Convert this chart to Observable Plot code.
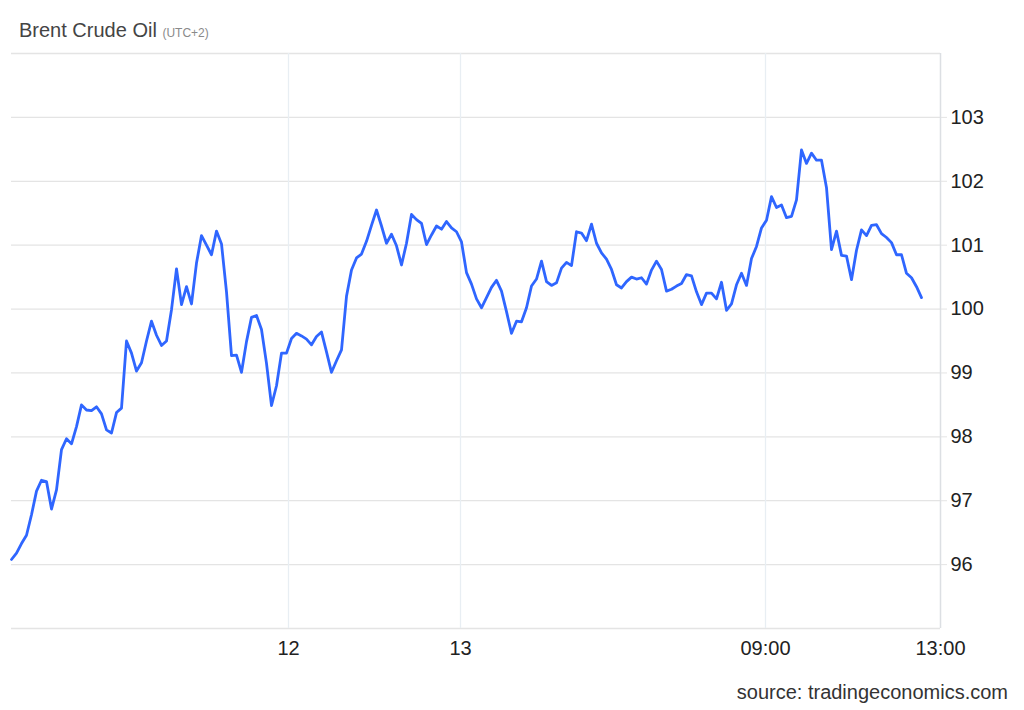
<!DOCTYPE html>
<html>
<head>
<meta charset="utf-8">
<script src="https://cdn.jsdelivr.net/npm/d3@7"></script>
<script src="https://cdn.jsdelivr.net/npm/@observablehq/plot@0.6"></script>
<style>
  html, body { margin: 0; padding: 0; background: #fff; }
  #wrap { position: relative; width: 1024px; height: 710px; overflow: hidden; font-family: "Liberation Sans", Arial, sans-serif; }
  #chart { position: absolute; left: 0; top: 0; }
  #title { position: absolute; left: 19px; top: 19px; font-size: 20px; color: #444; white-space: nowrap; }
  #title small { font-size: 12px; color: #8a8a8a; }
  #source { position: absolute; right: 16px; top: 681px; font-size: 20px; color: #333; white-space: nowrap; }
</style>
</head>
<body>
<div id="wrap">
  <div id="chart"></div>
  <div id="title">Brent Crude Oil <small>(UTC+2)</small></div>
  <div id="source">source: tradingeconomics.com</div>
</div>
<script>
// Brent crude price, evenly spaced intraday observations
const prices = [
  96.08, 96.18, 96.33, 96.46, 96.78, 97.15, 97.32, 97.30, 96.87, 97.17,
  97.80, 97.97, 97.89, 98.16, 98.50, 98.42, 98.41, 98.47, 98.36, 98.11,
  98.06, 98.38, 98.45, 99.50, 99.31, 99.03, 99.16, 99.50, 99.81, 99.59,
  99.43, 99.50, 99.99, 100.63, 100.07, 100.35, 100.08, 100.72, 101.15, 101.00,
  100.85, 101.22, 101.02, 100.27, 99.27, 99.28, 99.01, 99.49, 99.87, 99.90,
  99.68, 99.15, 98.49, 98.80, 99.31, 99.31, 99.54, 99.62, 99.58, 99.53,
  99.44, 99.57, 99.64, 99.33, 99.01, 99.19, 99.36, 100.20, 100.61, 100.80,
  100.86, 101.06, 101.31, 101.55, 101.30, 101.03, 101.17, 100.99, 100.69, 101.03,
  101.48, 101.40, 101.34, 101.01, 101.16, 101.30, 101.25, 101.37, 101.27, 101.21,
  101.05, 100.57, 100.39, 100.16, 100.02, 100.18, 100.34, 100.45, 100.28, 99.96,
  99.62, 99.81, 99.80, 100.02, 100.36, 100.47, 100.75, 100.43, 100.37, 100.41,
  100.64, 100.73, 100.68, 101.21, 101.19, 101.07, 101.33, 101.03, 100.88, 100.78,
  100.62, 100.38, 100.33, 100.43, 100.50, 100.47, 100.49, 100.39, 100.61, 100.75,
  100.62, 100.28, 100.31, 100.36, 100.40, 100.54, 100.52, 100.27, 100.07, 100.25,
  100.25, 100.16, 100.42, 99.98, 100.08, 100.38, 100.56, 100.37, 100.79, 100.98,
  101.27, 101.39, 101.76, 101.59, 101.63, 101.43, 101.45, 101.71, 102.49, 102.28,
  102.44, 102.33, 102.33, 101.90, 100.93, 101.22, 100.84, 100.83, 100.46, 100.92,
  101.24, 101.15, 101.31, 101.32, 101.18, 101.12, 101.04, 100.85, 100.85, 100.56,
  100.49, 100.35, 100.18
];

// x-axis: observation positions of the labelled times and their labels
const tickIndex = [55.4, 89.8, 150.8, 185.8];
const tickLabels = ["12", "13", "09:00", "13:00"];
const xDomain = [0, 185.8];

// y-axis
const yDomain = [95, 104];
const yGrid = [95, 96, 97, 98, 99, 100, 101, 102, 103, 104];
const yTicks = [96, 97, 98, 99, 100, 101, 102, 103];

const labelOf = new Map(tickIndex.map((t, i) => [t, tickLabels[i]]));
const series = prices.map((v, i) => ({i, v}));

const chart = Plot.plot({
  width: 1024,
  height: 710,
  marginLeft: 11,
  marginRight: 84,
  marginTop: 53,
  marginBottom: 82,
  style: {fontFamily: "'Liberation Sans', Arial, sans-serif", fontSize: "20px", color: "#222", background: "transparent", overflow: "visible"},
  x: {domain: xDomain, label: null},
  y: {domain: yDomain, label: null},
  marks: [
    Plot.ruleY(yGrid, {stroke: "#e4e4e4", strokeWidth: 1.3}),
    Plot.ruleX(tickIndex.slice(0, 3), {stroke: "#e8eef3", strokeWidth: 1.3}),
    Plot.ruleX([tickIndex[3]], {stroke: "#dcdfe3", strokeWidth: 1.5}),
    Plot.axisX({ticks: tickIndex, tickFormat: d => labelOf.get(d), tickSize: 0, tickPadding: 12, fontSize: 20, fill: "#222", label: null}),
    Plot.axisY({anchor: "right", ticks: yTicks, tickSize: 6, tickPadding: 4, stroke: "#e4e4e4", fontSize: 20, fill: "#222", label: null}),
    Plot.line(series, {x: "i", y: "v", stroke: "#2f66ff", strokeWidth: 2.8, strokeLinejoin: "round", strokeLinecap: "round"})
  ]
});
document.getElementById("chart").appendChild(chart);
</script>
</body>
</html>
